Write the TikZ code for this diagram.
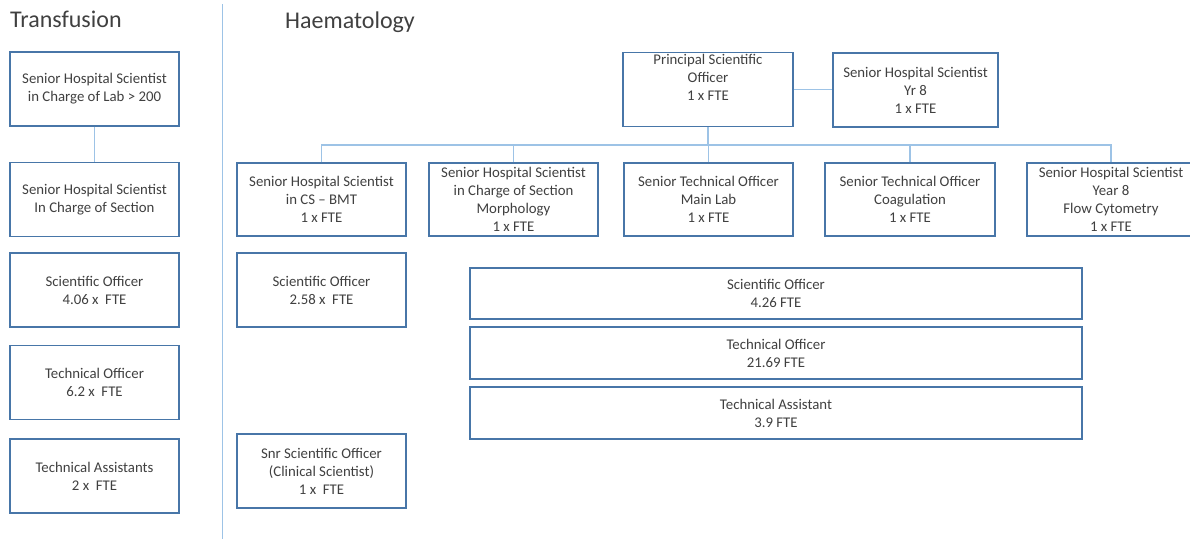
\documentclass[tikz,border=0pt]{standalone}
\usepackage{fontspec}
\setmainfont{Carlito}
\definecolor{boxline}{RGB}{72,118,168}
\definecolor{conline}{RGB}{157,195,230}
\definecolor{txt}{RGB}{64,64,64}
\begin{document}
\begin{tikzpicture}[x=1pt,y=-1pt,
  box/.style={draw=boxline, line width=1.4pt, fill=white, align=center, inner sep=2pt,
    text=txt, font=\fontsize{14.8}{18}\selectfont, minimum height=74pt},
  tbox/.style={box, minimum width=169pt},
  wbox/.style={box, minimum width=612pt, minimum height=51pt},
  con/.style={draw=conline, line width=1.2pt},
  ttl/.style={anchor=base west, inner sep=0pt, text=txt, font=\fontsize{24}{28}\selectfont}]
\useasboundingbox (0,0) rectangle (1190,539);
\clip (0,0) rectangle (1190,539);
% divider
\coordinate (dtop) at (222.5,4);
\coordinate (dbot) at (222.5,539);
\draw[con] (dtop) -- (dbot);
% titles
\node[ttl] (ttrans) at (10,27.5) {Transfusion};
\node[ttl] (thaem) at (285,28) {Haematology};
% Transfusion column
\node[tbox] (t1) at (94.5,89) {Senior Hospital Scientist\\in Charge of Lab > 200};
\node[tbox] (t2) at (94.5,199.5) {Senior Hospital Scientist\\In Charge of Section};
\node[tbox] (t3) at (94.5,290) {Scientific Officer\\4.06 x~~FTE};
\node[tbox] (t4) at (94.5,382.5) {Technical Officer\\6.2 x~~FTE};
\node[tbox] (t5) at (94.5,476) {Technical Assistants\\2 x~~FTE};
\draw[con] (t1.south) -- (t2.north);
% Haematology top
\node[box, minimum width=170pt, minimum height=73pt] (p) at (708,89.5) {Principal Scientific\\Officer\\1 x FTE\\\strut};
\node[box, minimum width=165pt] (y8) at (915.5,90) {Senior Hospital Scientist\\Yr 8\\1 x FTE};
% second row
\node[tbox, minimum height=73pt] (bmt) at (321.5,199.5) {Senior Hospital Scientist\\in CS – BMT\\1 x FTE};
\node[tbox, minimum height=73pt] (morph) at (513.5,199.5) {Senior Hospital Scientist\\in Charge of Section\\Morphology\\1 x FTE};
\node[tbox, minimum height=73pt] (main) at (708.5,199.5) {Senior Technical Officer\\Main Lab\\1 x FTE};
\node[box, minimum width=170pt, minimum height=73pt] (coag) at (910,199.5) {Senior Technical Officer\\Coagulation\\1 x FTE};
\node[box, minimum width=168pt, minimum height=73pt] (flow) at (1111,199.5) {Senior Hospital Scientist\\Year 8\\Flow Cytometry\\1 x FTE};
% lower
\node[tbox] (so) at (321.5,290) {Scientific Officer\\2.58 x~~FTE};
\node[tbox] (snr) at (321.5,471) {Snr Scientific Officer\\(Clinical Scientist)\\1 x~~FTE};
\node[wbox] (w1) at (776,293.5) {Scientific Officer\\4.26 FTE};
\node[wbox, minimum height=52pt] (w2) at (776,353) {Technical Officer\\21.69 FTE};
\node[wbox, minimum height=52pt] (w3) at (776,413) {Technical Assistant\\3.9 FTE};
% connectors
\coordinate (bus) at (708,145);
\draw[con] (p.east) -- (y8.west |- p.east);
\draw[con] (p.south) -- (bus);
\draw[con] (bmt.north) |- (bus) -| (flow.north);
\draw[con] (morph.north) -- (morph.north |- bus);
\draw[con] (main.north) -- (main.north |- bus);
\draw[con] (coag.north) -- (coag.north |- bus);
\end{tikzpicture}
\end{document}
